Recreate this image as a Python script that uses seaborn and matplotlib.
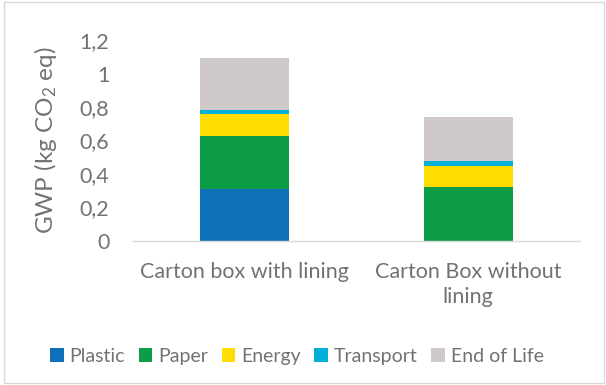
import numpy as np
import pandas as pd
import matplotlib
matplotlib.use("Agg")
import matplotlib.pyplot as plt
from matplotlib.patches import Patch, Rectangle
import seaborn as sns

# Data
categories = ["Carton box with lining", "Carton Box without\nlining"]
stages = ["Plastic", "Paper", "Energy", "Transport", "End of Life"]
plastic = [0.31, 0.0]
paper = [0.32, 0.32]
energy = [0.13, 0.13]
transport = [0.025, 0.026]
end_of_life = [0.31, 0.267]
colors = ["#0E70B8", "#0E9C47", "#FFDD00", "#00B0D8", "#CFC9C9"]

sns.set_theme(style="white")
plt.rcParams["font.family"] = ["Lato", "DejaVu Sans"]
plt.rcParams["mathtext.fontset"] = "custom"
plt.rcParams["mathtext.rm"] = "Lato"
plt.rcParams["mathtext.it"] = "Lato"
text_color = "#727272"
fs = 15.5

layers = [plastic, paper, energy, transport, end_of_life]
cum = np.cumsum(np.array(layers), axis=0)

fig = plt.figure(figsize=(6.06, 3.85), dpi=100)
ax = fig.add_axes([0.2195, 0.374, 0.7375, 0.522])

# Stacked bars: draw cumulative totals from top layer down
for i in range(len(stages) - 1, -1, -1):
    df = pd.DataFrame({"category": categories, "value": cum[i]})
    sns.barplot(data=df, x="category", y="value", color=colors[i],
                width=0.4, saturation=1, ax=ax, linewidth=0)

ax.set_ylim(0, 1.2)
ax.set_xlim(-0.5, 1.5)
ax.set_yticks(np.arange(0, 1.21, 0.2))
ax.set_yticklabels(["0", "0,2", "0,4", "0,6", "0,8", "1", "1,2"])
ax.set_xlabel("")
ax.set_ylabel(r"GWP (kg CO$_2$ eq)", fontsize=17.5, color=text_color)
ax.yaxis.set_label_coords(-0.165, 0.5)
ax.tick_params(axis="y", labelsize=fs, colors=text_color, length=0, pad=17)
ax.tick_params(axis="x", labelsize=fs, colors=text_color, length=0, pad=15)
for lbl in ax.get_xticklabels():
    lbl.set_linespacing(1.35)
for s in ["top", "right", "left"]:
    ax.spines[s].set_visible(False)
ax.spines["bottom"].set_color("#D9D9D9")
ax.spines["bottom"].set_linewidth(1)

handles = [Patch(facecolor=c, edgecolor="none") for c in colors]
fig.legend(handles, stages, loc="center", bbox_to_anchor=(0.49, 0.075), ncol=5,
           frameon=False, fontsize=14, handlelength=0.7, handleheight=0.7,
           handletextpad=0.3, columnspacing=0.7, labelcolor=text_color)

# Chart border
fig.patches.append(Rectangle((0.006, 0.004), 0.99, 0.992, transform=fig.transFigure,
                             fill=False, edgecolor="#D9D9D9", linewidth=1))

fig.savefig("out.png", dpi=100)
